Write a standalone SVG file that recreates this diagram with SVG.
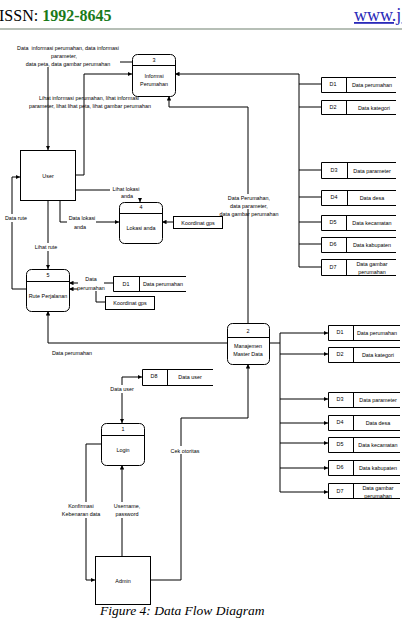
<svg xmlns="http://www.w3.org/2000/svg" width="402" height="618" viewBox="0 0 402 618">
<style>
.t{font-family:"Liberation Sans",Arial,sans-serif;font-size:5.4px;fill:#000;text-anchor:middle}
.ln{fill:none;stroke:#000;stroke-width:1}
.ar{fill:none;stroke:#000;stroke-width:1;marker-end:url(#ah)}
.pr{fill:#fff;stroke:#000;stroke-width:1}
.st{fill:none;stroke:#000;stroke-width:1}
.bg{fill:#fff}
</style>
<defs>
<marker id="ah" viewBox="0 0 6 6" refX="6" refY="3" markerWidth="4.5" markerHeight="4.5" markerUnits="userSpaceOnUse" orient="auto-start-reverse">
<path d="M0,0 L6,3 L0,6 z" fill="#000"/>
</marker>
</defs>
<rect width="402" height="618" fill="#fff"/>
<g id="header">
<text x="-1" y="21" font-family="Liberation Serif,serif" font-size="16">ISSN: <tspan fill="#1a7a1a" font-weight="bold">1992-8645</tspan></text>
<text x="354" y="21" font-family="Liberation Serif,serif" font-size="18" fill="#2a2ab8" text-decoration="underline">www.j</text>
<line x1="0" y1="29" x2="402" y2="29" stroke="#6f806f" stroke-width="1.2"/>
</g>
<g id="connectors">
<path class="ar" d="M132,62 H48 V150"/>
<path class="ar" d="M75,175 H84 V74 H132"/>
<path class="ar" d="M299,74 H175"/>
<path class="ln" d="M299,74 V267 M299,84 H321 M299,107 H321 M299,170 H321 M299,197 H321 M299,222 H321 M299,244 H321 M299,267 H321"/>
<path class="ar" d="M248,323 V107 H169 V96"/>
<path class="ar" d="M75,190 H140 V202"/>
<path class="ar" d="M60,201 V222 H119"/>
<path class="ar" d="M173,222 H162"/>
<path class="ar" d="M48,201 V269"/>
<path class="ar" d="M26,289 H12 V177 H20"/>
<path class="ar" d="M113,283 H69"/>
<path class="ln" d="M105,302 H96 V283"/>
<path class="ar" d="M96,289 H69"/>
<path class="ar" d="M227,343 H48 V311"/>
<path class="ln" d="M269,343 H280 M280,333 V492"/>
<path class="ar" d="M280,333 H328"/>
<path class="ar" d="M280,354 H328"/>
<path class="ar" d="M280,399 H328"/>
<path class="ar" d="M280,423 H328"/>
<path class="ar" d="M280,443 H328"/>
<path class="ar" d="M280,468 H328"/>
<path class="ar" d="M280,492 H328"/>
<path class="ar" d="M122,423 V377 H142" marker-start="url(#ah)"/>
<path class="ar" d="M101,444 H86 V580 H95"/>
<path class="ar" d="M122,556 V465"/>
<path class="ar" d="M150,580 H181 V418 H248 V364"/>
</g>
<g id="labels">
<rect class="bg" x="16" y="43" width="104" height="24"/>
<text class="t" x="68" y="50" xml:space="preserve">Data  informasi perumahan, data informasi</text>
<text class="t" x="64" y="58">parameter,</text>
<text class="t" x="68" y="66">data peta, data gambar perumahan</text>
<text class="t" x="89" y="100">Lihat informasi perumahan, lihat informasi</text>
<text class="t" x="90" y="108">parameter, lihat lihat peta, lihat gambar perumahan</text>
<rect class="bg" x="110" y="184" width="31" height="14"/>
<text class="t" x="126" y="191">Lihat lokasi</text>
<text class="t" x="127" y="198">anda</text>
<rect class="bg" x="67" y="213" width="29" height="16"/>
<text class="t" x="82" y="220">Data lokasi</text>
<text class="t" x="80" y="229">anda</text>
<rect class="bg" x="5" y="214" width="22" height="8"/>
<text class="t" x="16" y="220">Data rute</text>
<rect class="bg" x="35" y="243" width="22" height="8"/>
<text class="t" x="46" y="249">Lihat rute</text>
<rect class="bg" x="225" y="194" width="46" height="15"/>
<text class="t" x="249" y="200">Data Perumahan,</text>
<text class="t" x="249" y="208">data parameter,</text>
<text class="t" x="249" y="216">data gambar perumahan</text>
<rect class="bg" x="78" y="275" width="26" height="16"/>
<text class="t" x="91" y="281">Data</text>
<text class="t" x="91" y="290">perumahan</text>
<text class="t" x="72" y="355">Data perumahan</text>
<rect class="bg" x="110" y="385" width="25" height="8"/>
<text class="t" x="122" y="391">Data user</text>
<rect class="bg" x="171" y="446" width="29" height="8"/>
<text class="t" x="185" y="453">Cek otoritas</text>
<rect class="bg" x="61" y="502" width="41" height="16"/>
<text class="t" x="81" y="508">Konfirmasi</text>
<text class="t" x="81" y="516">Kebenaran data</text>
<rect class="bg" x="113" y="502" width="28" height="16"/>
<text class="t" x="127" y="508">Username,</text>
<text class="t" x="127" y="516">password</text>
</g>
<g id="user">
<rect class="pr" x="20.5" y="150.5" width="55" height="50"/>
<text class="t" x="48" y="178">User</text>
</g>
<g id="admin">
<rect class="pr" x="95.5" y="556.5" width="55" height="48"/>
<text class="t" x="123" y="583">Admin</text>
</g>
<g id="p3">
<rect class="pr" x="132.5" y="54.5" width="43" height="42" rx="5"/>
<line class="ln" x1="132.5" y1="65.5" x2="175.5" y2="65.5"/>
<text class="t" x="154" y="62">3</text>
<text class="t" x="154" y="78">Informsi</text>
<text class="t" x="154" y="86">Perumahan</text>
</g>
<g id="p4">
<rect class="pr" x="119.5" y="202.5" width="43" height="41" rx="5"/>
<line class="ln" x1="119.5" y1="213.5" x2="162.5" y2="213.5"/>
<text class="t" x="141" y="209">4</text>
<text class="t" x="141" y="230">Lokasi anda</text>
</g>
<g id="p5">
<rect class="pr" x="26.5" y="269.5" width="43" height="42" rx="5"/>
<line class="ln" x1="26.5" y1="281.5" x2="69.5" y2="281.5"/>
<text class="t" x="48" y="277">5</text>
<text class="t" x="48" y="298">Rute Perjalanan</text>
</g>
<g id="p2">
<rect class="pr" x="227.5" y="323.5" width="42" height="41" rx="5"/>
<line class="ln" x1="227.5" y1="337.5" x2="269.5" y2="337.5"/>
<text class="t" x="248" y="333">2</text>
<text class="t" x="248" y="348">Manajemen</text>
<text class="t" x="248" y="356">Master Data</text>
</g>
<g id="p1">
<rect class="pr" x="101.5" y="423.5" width="43" height="42" rx="5"/>
<line class="ln" x1="101.5" y1="435.5" x2="144.5" y2="435.5"/>
<text class="t" x="123" y="431">1</text>
<text class="t" x="123" y="452">Login</text>
</g>
<g id="gps1">
<rect class="pr" x="173.5" y="216.5" width="49" height="12"/>
<text class="t" x="198" y="224.5">Koordinat gps</text>
</g>
<g id="gps2">
<rect class="pr" x="105.5" y="296.5" width="49" height="13"/>
<text class="t" x="130" y="305">Koordinat gps</text>
</g>
<g id="d1-p5">
<path class="st" d="M186,276.5 H113.5 V291.5 H186 M139.5,276.5 V291.5"/>
<text class="t" x="126" y="286">D1</text>
<text class="t" x="163" y="286">Data perumahan</text>
</g>
<g id="d8">
<path class="st" d="M213,369.5 H142.5 V385.5 H213 M167.5,369.5 V385.5"/>
<text class="t" x="154" y="378">D8</text>
<text class="t" x="190" y="379">Data user</text>
</g>
<g id="stores-top">
<path class="st" d="M396,77.5 H321.5 V92.5 H396 M346.5,77.5 V92.5"/>
<text class="t" x="333" y="86">D1</text>
<text class="t" x="372" y="87">Data perumahan</text>
<path class="st" d="M396,100.5 H321.5 V114.5 H396 M346.5,100.5 V114.5"/>
<text class="t" x="333" y="109">D2</text>
<text class="t" x="374" y="110">Data kategori</text>
<path class="st" d="M396,162.5 H321.5 V178.5 H396 M347.5,162.5 V178.5"/>
<text class="t" x="334" y="172">D3</text>
<text class="t" x="372" y="173">Data parameter</text>
<path class="st" d="M396,190.5 H321.5 V205.5 H396 M347.5,190.5 V205.5"/>
<text class="t" x="334" y="199">D4</text>
<text class="t" x="372" y="200">Data desa</text>
<path class="st" d="M396,215.5 H321.5 V230.5 H396 M346.5,215.5 V230.5"/>
<text class="t" x="333" y="224">D5</text>
<text class="t" x="372" y="225">Data kecamatan</text>
<path class="st" d="M396,237.5 H321.5 V252.5 H396 M346.5,237.5 V252.5"/>
<text class="t" x="333" y="246">D6</text>
<text class="t" x="372" y="247">Data kabupaten</text>
<path class="st" d="M396,259.5 H321.5 V275.5 H396 M346.5,259.5 V275.5"/>
<text class="t" x="333" y="269">D7</text>
<text class="t" x="372" y="266">Data gambar</text>
<text class="t" x="372" y="274">perumahan</text>
</g>
<g id="stores-bottom">
<path class="st" d="M400,325.5 H328.5 V340.5 H400 M353.5,325.5 V340.5"/>
<text class="t" x="340" y="334">D1</text>
<text class="t" x="377" y="335">Data perumahan</text>
<path class="st" d="M400,347.5 H328.5 V362.5 H400 M353.5,347.5 V362.5"/>
<text class="t" x="340" y="356">D2</text>
<text class="t" x="378" y="357">Data kategori</text>
<path class="st" d="M400,392.5 H328.5 V407.5 H400 M353.5,392.5 V407.5"/>
<text class="t" x="340" y="401">D3</text>
<text class="t" x="378" y="402">Data parameter</text>
<path class="st" d="M400,415.5 H328.5 V430.5 H400 M353.5,415.5 V430.5"/>
<text class="t" x="340" y="424">D4</text>
<text class="t" x="378" y="425">Data desa</text>
<path class="st" d="M400,437.5 H328.5 V452.5 H400 M353.5,437.5 V452.5"/>
<text class="t" x="340" y="446">D5</text>
<text class="t" x="378" y="447">Data kecamatan</text>
<path class="st" d="M400,460.5 H328.5 V475.5 H400 M353.5,460.5 V475.5"/>
<text class="t" x="340" y="469">D6</text>
<text class="t" x="378" y="470">Data kabupaten</text>
<path class="st" d="M400,483.5 H328.5 V498.5 H400 M353.5,483.5 V498.5"/>
<text class="t" x="340" y="493">D7</text>
<text class="t" x="378" y="490">Data gambar</text>
<text class="t" x="378" y="498">perumahan</text>
</g>
<g id="caption">
<text x="100" y="614.5" font-family="Liberation Serif,serif" font-size="13.5" font-style="italic">Figure 4: Data Flow Diagram</text>
</g>
</svg>
